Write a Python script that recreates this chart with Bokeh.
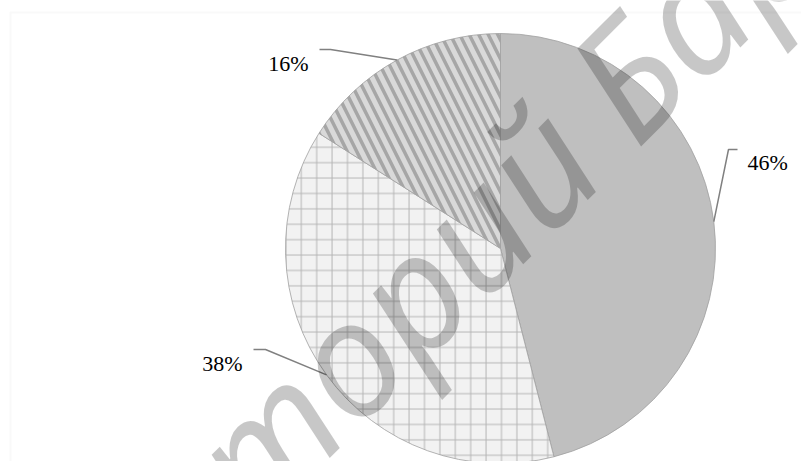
import numpy as np
from bokeh.plotting import figure
from bokeh.models import ColumnDataSource, Range1d, BoxAnnotation
from bokeh.core.properties import value
from bokeh.embed import file_html
from bokeh.resources import INLINE

# ---- data ----
shares = [46, 38, 16]
labels = ["46%", "38%", "16%"]
watermark_words = ["Репозиторий", "БарГУ"]

# ---- layout (screen pixels of the 801x461 window) ----
W, H = 801, 461


def dy(screen_y):
    return H - screen_y


pie_cx, pie_cy, pie_r = 500, dy(248), 215
fills = ["#bfbfbf", "#f2f2f2", "#d9d9d9"]
hatches = [" ", "+", "\\"]
hatch_colors = ["#bfbfbf", "#8a8a8a", "#a6a6a6"]
hatch_alphas = [1.0, 0.6, 1.0]
hatch_scales = [10, 15.4, 19]
hatch_weights = [1, 1, 3.5]

# label layout: elbow, end of leader, text anchor, alignment
elbows = [(728, 149), (265, 349), (330, 49)]
ends = [(737, 149), (253, 349), (319, 49)]
text_pos = [(747, 162), (242, 363), (308, 63)]
aligns = ["left", "right", "right"]

p = figure(width=W, height=H, x_range=Range1d(0, W), y_range=Range1d(0, H),
           output_backend="svg", toolbar_location=None,
           x_axis_type=None, y_axis_type=None, min_border=0,
           outline_line_color=None, background_fill_color="white",
           border_fill_color="white")

# chart area border
p.add_layout(BoxAnnotation(left=10, right=W + 50, top=dy(12), bottom=-60,
                           fill_color=None, line_color="#ebebeb", line_width=2,
                           level="underlay"))

frac = np.array(shares, dtype=float) / sum(shares)
cum = np.concatenate([[0.0], np.cumsum(frac)])
start = np.pi / 2 - 2 * np.pi * cum[:-1]
end = np.pi / 2 - 2 * np.pi * cum[1:]

src = ColumnDataSource(dict(start=start, end=end, fill=fills, hatch=hatches,
                            hcol=hatch_colors, halpha=hatch_alphas,
                            hscale=hatch_scales, hw=hatch_weights))
p.wedge(x=pie_cx, y=pie_cy, radius=pie_r, start_angle="start", end_angle="end",
        direction="clock", source=src, fill_color="fill", line_color="#a0a0a0",
        line_width=0.8, hatch_pattern="hatch", hatch_color="hcol",
        hatch_alpha="halpha", hatch_scale="hscale", hatch_weight="hw")

# leader lines
mid = (start + end) / 2
xs, ys = [], []
for i in range(len(shares)):
    sx0 = pie_cx + pie_r * np.cos(mid[i])
    sy0 = pie_cy + pie_r * np.sin(mid[i])
    xs.append([sx0, elbows[i][0], ends[i][0]])
    ys.append([sy0, dy(elbows[i][1]), dy(ends[i][1])])
p.multi_line(xs=xs, ys=ys, line_color="#808080", line_width=1.5)

for i in range(len(shares)):
    p.text(x=[text_pos[i][0]], y=[dy(text_pos[i][1])], text=[labels[i]],
           text_font=value("Liberation Serif"), text_font_size="22px",
           text_color="black", text_align=aligns[i], text_baseline="middle")

# watermark
ang = np.deg2rad(45)
wm = dict(angle=ang, text_font=value("Noto Sans"), text_font_style="italic",
          text_font_size="160px", text_color="black", text_alpha=0.22,
          text_baseline="alphabetic")
p.text(x=[567], y=[dy(132)], text=[watermark_words[0]], text_align="right", **wm)
p.text(x=[593], y=[dy(106)], text=[watermark_words[1]], text_align="left", **wm)

open("out.html", "w").write(file_html(p, INLINE))
